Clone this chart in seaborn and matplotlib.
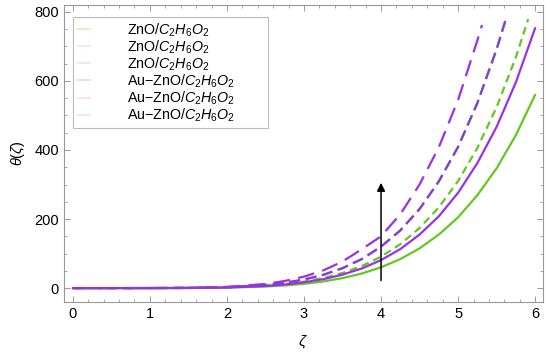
import numpy as np
import pandas as pd
import matplotlib
matplotlib.use("Agg")
import matplotlib.pyplot as plt
import seaborn as sns
from matplotlib.ticker import MultipleLocator

# perfiles de temperatura
zeta = [0, 0.5, 1, 1.5, 2, 2.5, 2.75, 3, 3.25, 3.5, 3.75, 4, 4.25, 4.5, 4.75,
        5, 5.25, 5.5, 5.75, 6]
zno_1 = [0, 0, 0.03, 0.27, 1.3, 4.5, 7.7, 12.4, 19.2, 28.9, 42.2, 60.2, 84, 115,
         155, 205, 269, 347, 443, 560]
auzno_1 = [0, 0, 0.04, 0.36, 1.7, 6.1, 10.4, 16.7, 25.8, 38.9, 56.8, 81, 113, 155,
           208, 276, 362, 467, 596, 753]

zeta_g2 = [0, 0.5, 1, 1.5, 2, 2.5, 2.75, 3, 3.25, 3.5, 3.75, 4, 4.25, 4.5, 4.75,
           5, 5.25, 5.5, 5.75, 5.91]
zno_2 = [0, 0, 0.05, 0.41, 2.0, 6.8, 11.6, 18.7, 29.0, 43.7, 63.8, 91, 127, 174,
         234, 310, 406, 524, 669, 779]

zeta_p2 = [0, 0.5, 1, 1.5, 2, 2.5, 2.75, 3, 3.25, 3.5, 3.75, 4, 4.25, 4.5, 4.75,
           5, 5.25, 5.5, 5.62]
auzno_2 = [0, 0, 0.06, 0.54, 2.6, 9.0, 15.3, 24.7, 38.3, 57.6, 84, 120, 167, 229,
           309, 409, 536, 692, 779]
zno_3 = auzno_2  # queda debajo de la curva morada

zeta_p3 = [0, 0.5, 1, 1.5, 2, 2.5, 2.75, 3, 3.25, 3.5, 3.75, 4, 4.25, 4.5, 4.75,
           5, 5.25, 5.31]
auzno_3 = [0, 0, 0.08, 0.72, 3.5, 12.0, 20.5, 33.1, 51.2, 77, 112.5, 150, 214,
           300, 408, 545, 717, 762]

etiqueta_zno = r"ZnO/$C_2H_6O_2$"
etiqueta_au = r"Au$-$ZnO/$C_2H_6O_2$"

verde = "#62c81e"
morado = "#9b30e8"
morado2 = "#7f3fe0"

sns.set_style("ticks")
plt.rcParams["font.family"] = ["Liberation Sans", "DejaVu Sans"]
plt.rcParams["mathtext.fontset"] = "custom"
plt.rcParams["mathtext.rm"] = "Liberation Sans"
plt.rcParams["mathtext.it"] = "Liberation Sans:italic"
plt.rcParams["text.color"] = "black"
plt.rcParams["xtick.labelcolor"] = "black"
plt.rcParams["ytick.labelcolor"] = "black"
plt.rcParams["axes.labelcolor"] = "black"

fig = plt.figure(figsize=(5.5, 3.55), dpi=100)
ax = fig.add_axes([0.116, 0.149, 0.871, 0.837])

curvas = [
    (zeta, zno_1, verde, "-", 1.6),
    (zeta_g2, zno_2, verde, (0, (3.5, 2.2)), 1.6),
    (zeta_p2, zno_3, "#c08a40", (0, (5, 2.5)), 1.6),
    (zeta, auzno_1, morado, "-", 1.6),
    (zeta_p2, auzno_2, morado2, (0, (5, 2.5)), 1.6),
    (zeta_p3, auzno_3, morado, (0, (7.5, 3.8)), 1.6),
]
for xs, ys, c, ls, lw in curvas:
    sns.lineplot(x=xs, y=ys, ax=ax, color=c, linestyle=ls, lw=lw)

ax.annotate("", xy=(4, 313), xytext=(4, 14),
            arrowprops=dict(arrowstyle="-|>", color="black", lw=1.1,
                            mutation_scale=12))

# leyenda con muestras casi invisibles como en el original
handles = []
colores_ley = ["#d8f0c0", "#d8f4d8", "#dcf2dc", "#f0d0f6", "#f8dcf8", "#dcecec"]
for c in colores_ley:
    h, = ax.plot([], [], color=c, lw=1.2)
    handles.append(h)
labels = [etiqueta_zno + "             "] * 3 + [etiqueta_au + "        "] * 3
leg = ax.legend(handles, labels, loc="upper left", bbox_to_anchor=(0.019, 0.96),
                fontsize=10.3, frameon=True, fancybox=False, handlelength=0.9,
                handletextpad=2.6, borderpad=0.3, labelspacing=-0.02,
                borderaxespad=0)
leg.get_frame().set_edgecolor("#aaaaaa")
leg.get_frame().set_linewidth(0.8)

ax.set_xlim(-0.117, 6.1)
ax.set_ylim(-40.6, 820)
ax.xaxis.set_major_locator(MultipleLocator(1))
ax.xaxis.set_minor_locator(MultipleLocator(0.2))
ax.yaxis.set_major_locator(MultipleLocator(200))
ax.yaxis.set_minor_locator(MultipleLocator(50))
ax.tick_params(which="both", direction="in", top=True, right=True,
               color="#999999", labelsize=10.5)
ax.tick_params(which="major", length=4.5, width=0.7)
ax.tick_params(which="minor", length=2.5, width=0.6)
for s in ax.spines.values():
    s.set_color("#999999")
    s.set_linewidth(0.8)

ax.set_xlabel(r"$\zeta$", fontsize=11, labelpad=9)
ax.set_ylabel(r"$\theta(\zeta)$", fontsize=10.5, labelpad=5)

fig.savefig("out.png", dpi=100)
